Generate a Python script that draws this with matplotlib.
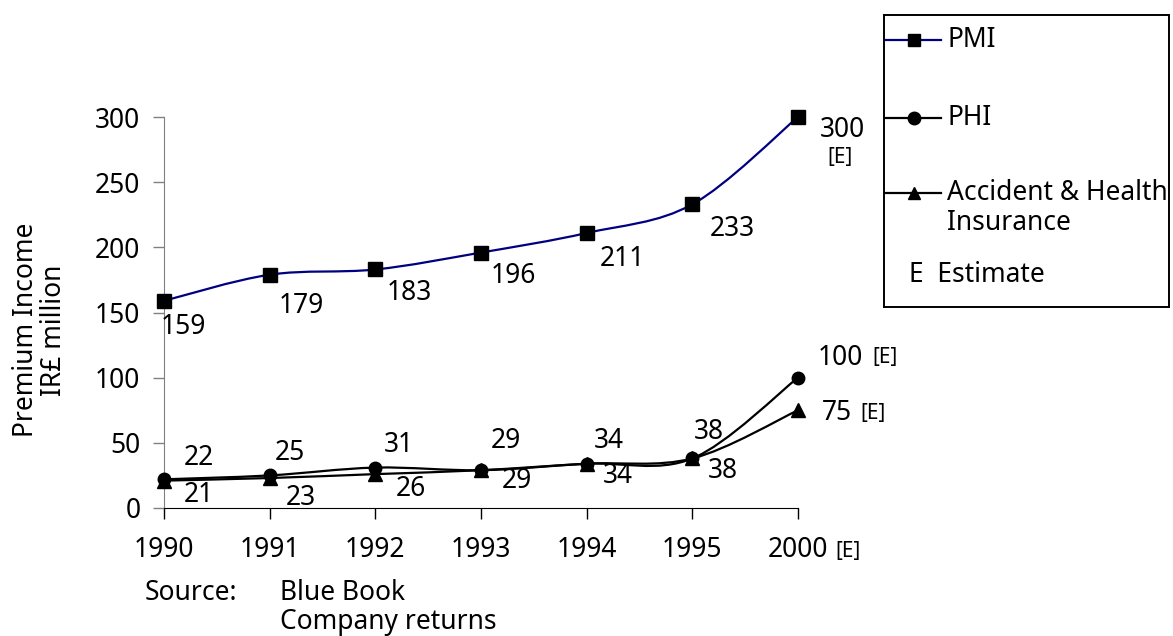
import matplotlib.pyplot as plt
import numpy as np
from matplotlib.path import Path
from matplotlib.patches import PathPatch
from matplotlib.lines import Line2D

years = ['1990', '1991', '1992', '1993', '1994', '1995', '2000']
pmi = [159, 179, 183, 196, 211, 233, 300]
phi = [22, 25, 31, 29, 34, 38, 100]
acc_health = [21, 23, 26, 29, 34, 38, 75]

plt.rcParams['font.family'] = ['Noto Sans', 'DejaVu Sans']
FS = 19
SMALL = 15


def smooth_path(x, y):
    # cubic bezier through the points, control points from the neighbours
    pts = np.column_stack([x, y]).astype(float)
    padded = np.vstack([pts[0], pts, pts[-1]])
    verts = [pts[0]]
    codes = [Path.MOVETO]
    for i in range(len(pts) - 1):
        p0, p1, p2, p3 = padded[i], padded[i + 1], padded[i + 2], padded[i + 3]
        verts += [p1 + (p2 - p0) / 6, p2 - (p3 - p1) / 6, p2]
        codes += [Path.CURVE4] * 3
    return Path(verts, codes)


def draw_series(ax, y, color, marker, msize):
    x = np.arange(len(y))
    ax.add_patch(PathPatch(smooth_path(x, y), fill=False, edgecolor=color, lw=1.6, zorder=2))
    ax.plot(x, y, ls='none', marker=marker, color='black', ms=msize, zorder=3, clip_on=False)


def label_points(ax, y, offsets, estimate_offset):
    for i, (v, off) in enumerate(zip(y, offsets)):
        ax.annotate(str(v), (i, v), xytext=off, textcoords='offset pixels',
                    ha='center', va='center', fontsize=FS)
    ax.annotate('[E]', (len(y) - 1, y[-1]), xytext=estimate_offset, textcoords='offset pixels',
                ha='center', va='center', fontsize=SMALL)


fig = plt.figure(figsize=(11.73, 6.36), dpi=100)
ax = fig.add_axes([164 / 1173, 1 - 508 / 636, (798 - 164) / 1173, (508 - 117) / 636])

draw_series(ax, pmi, '#000080', 's', 10.5)
draw_series(ax, phi, 'black', 'o', 9)
draw_series(ax, acc_health, 'black', '^', 10)

label_points(ax, pmi, [(19, -26), (32, -31), (34, -24), (32, -23), (36, -26), (40, -25), (44, -13)], (42, -41))
label_points(ax, phi, [(35, 21), (20, 22), (24, 23), (25, 29), (22, 23), (17, 26), (42, 20)], (87, 20))
label_points(ax, acc_health, [(35, -14), (31, -20), (36, -15), (36, -11), (31, -12), (31, -13), (39, -3)], (75, -3))

ax.set_xlim(0, len(years) - 1)
ax.set_ylim(0, 300)
ax.set_yticks(range(0, 301, 50))
ax.set_xticks(range(len(years)))
ax.set_xticklabels(years)
ax.tick_params(labelsize=FS, length=8, width=1, direction='out')
ax.tick_params(axis='y', colors='#808080', labelcolor='black', pad=9)
ax.tick_params(axis='x', colors='black', pad=12)
ax.spines[['top', 'right']].set_visible(False)
ax.spines['left'].set_color('#808080')
ax.spines['bottom'].set_color('black')
ax.annotate('[E]', (len(years) - 1, 0), xytext=(50, -43), textcoords='offset pixels',
            ha='center', va='center', fontsize=SMALL)

fig.text(40 / 1173, 1 - 330 / 636, 'Premium Income\nIR£ million', fontsize=FS,
         rotation=90, ha='center', va='center', linespacing=1.0)
fig.text(145 / 1173, 1 - 593 / 636, 'Source:', fontsize=FS, va='center')
fig.text(280 / 1173, 1 - 593 / 636, 'Blue Book', fontsize=FS, va='center')
fig.text(280 / 1173, 1 - 622 / 636, 'Company returns', fontsize=FS, va='center')

# legend drawn in its own box
lax = fig.add_axes([884 / 1173, 1 - 307 / 636, (1169 - 884) / 1173, (307 - 15) / 636])
lax.set_xlim(0, 285)
lax.set_ylim(292, 0)
lax.set_xticks([])
lax.set_yticks([])
for s in lax.spines.values():
    s.set_linewidth(1.4)
entries = [(['PMI'], '#000080', 's', 25), (['PHI'], 'black', 'o', 103),
           (['Accident & Health', 'Insurance'], 'black', '^', 178)]
for lines, color, marker, yy in entries:
    lax.add_line(Line2D([0, 57], [yy, yy], color=color, lw=1.6))
    lax.plot([30], [yy], marker=marker, color='black', ms=9)
    for k, line in enumerate(lines):
        lax.text(63, yy + 30 * k, line, fontsize=FS, va='center', ha='left')
lax.text(25, 260, 'E  Estimate', fontsize=FS, va='center', ha='left')

fig.savefig('out.png', dpi=100)
